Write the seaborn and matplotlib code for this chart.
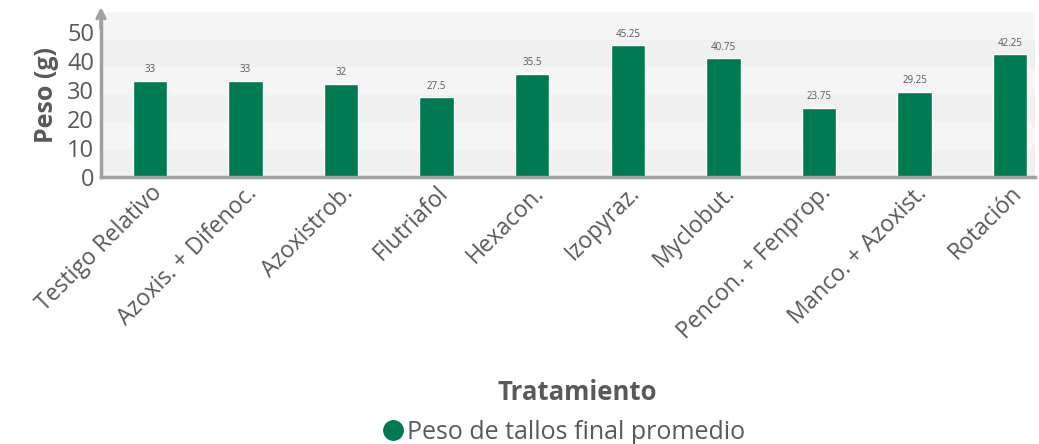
import matplotlib
matplotlib.use("Agg")
import matplotlib.pyplot as plt
import seaborn as sns
import pandas as pd
from matplotlib.lines import Line2D

categories = ["Testigo Relativo", "Azoxis. + Difenoc.", "Azoxistrob.", "Flutriafol",
              "Hexacon.", "Izopyraz.", "Myclobut.", "Pencon. + Fenprop.",
              "Manco. + Azoxist.", "Rotación"]
values = [33, 33, 32, 27.5, 35.5, 45.25, 40.75, 23.75, 29.25, 42.25]
value_labels = ["33", "33", "32", "27.5", "35.5", "45.25", "40.75", "23.75", "29.25", "42.25"]
y_ticks = [0, 10, 20, 30, 40, 50]
series_name = "Peso de tallos final promedio"

sns.set_theme(style="white")
plt.rcParams['font.family'] = ['Open Sans', 'DejaVu Sans']

GREEN = "#007A53"
TXT = "#595959"

df = pd.DataFrame({"Tratamiento": categories, "Peso": values})

fig = plt.figure(figsize=(10.39, 4.44), dpi=100)
ax = fig.add_axes([0.0972, 0.601, 0.899, 0.372])

ymax = 56.7
ax.set_ylim(0, ymax)
nb = 6
step = ymax / nb
for i in range(nb):
    ax.axhspan(i * step, (i + 1) * step, color="#f0f0f0" if i % 2 == 0 else "#f5f5f5",
               zorder=0, lw=0)

sns.barplot(data=df, x="Tratamiento", y="Peso", color=GREEN, width=0.36,
            saturation=1, ax=ax, zorder=3)
ax.set_xlim(-0.51, 9.26)

for i, (v, lab) in enumerate(zip(values, value_labels)):
    ax.text(i, v + 1.9, lab, ha="center", va="bottom", fontsize=7, color=TXT)

ax.set_yticks(y_ticks)
ax.set_yticklabels([str(t) for t in y_ticks], fontsize=17, color=TXT)
ax.tick_params(axis="y", length=0, pad=5)
ax.tick_params(axis="x", length=0, pad=3)
ax.set_xticks(range(len(categories)))
ax.set_xticklabels(categories, rotation=45, ha="right", rotation_mode="anchor",
                   fontsize=16.5, color=TXT)

ax.set_ylabel("Peso (g)", fontsize=18, fontweight="bold", color=TXT, labelpad=6)
ax.set_xlabel("")
fig.text(0.556, 0.115, "Tratamiento", ha="center", va="center", fontsize=18.5,
         fontweight="bold", color=TXT)

for s in ["top", "right"]:
    ax.spines[s].set_visible(False)
for s in ["left", "bottom"]:
    ax.spines[s].set_color("#a0a0a0")
    ax.spines[s].set_linewidth(2.5)
ax.spines["left"].set_zorder(5)
ax.spines["bottom"].set_zorder(5)

ax.annotate("", xy=(0, 1.03), xytext=(0, 0.9), xycoords="axes fraction",
            arrowprops=dict(arrowstyle="->", color="#a0a0a0", lw=2.5,
                            mutation_scale=14, shrinkA=0, shrinkB=0))

handle = Line2D([], [], marker="o", color=GREEN, linestyle="none", markersize=14)
fig.legend([handle], [series_name], loc="center", bbox_to_anchor=(0.536, 0.027),
           frameon=False, fontsize=18, labelcolor=TXT, handletextpad=-0.45,
           borderaxespad=0, borderpad=0)

fig.savefig("out.png", dpi=100)
